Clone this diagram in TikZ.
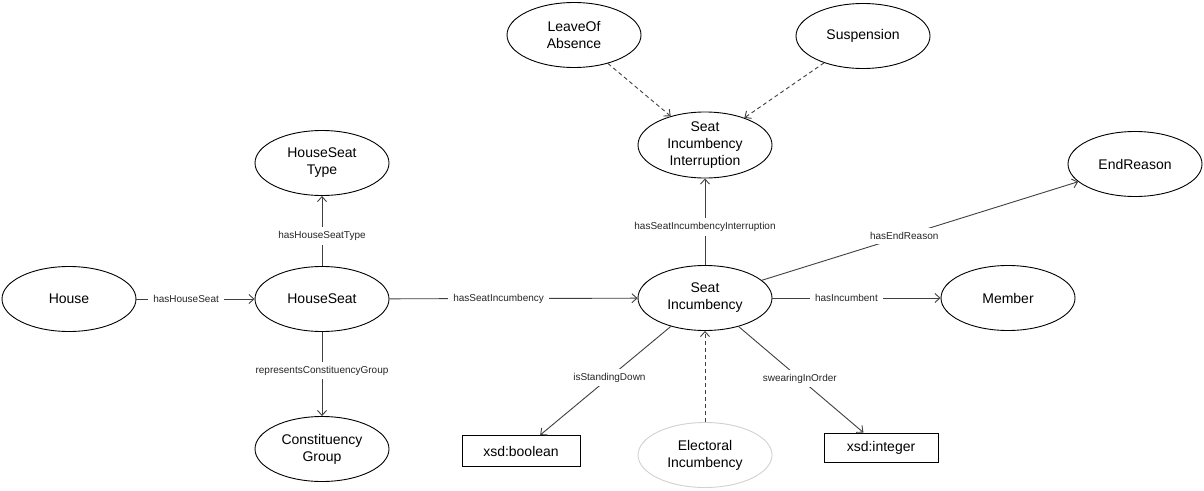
\documentclass[tikz,border=0pt]{standalone}
\usepackage{fontspec}
\setmainfont{Liberation Sans}
\usetikzlibrary{arrows.meta,shapes.geometric}

\begin{document}
\begin{tikzpicture}[x=1pt,y=-1pt,
  cls/.style={ellipse, draw=black, line width=0.9pt, minimum width=134pt,
    minimum height=65pt, inner sep=0pt, align=center,
    font=\fontsize{14}{17}\selectfont},
  dtype/.style={rectangle, draw=black, line width=0.9pt, inner sep=0pt,
    font=\fontsize{14}{17}\selectfont},
  rel/.style={draw=black!75, line width=0.9pt,
    -{Straight Barb[length=5pt,width=9pt]}},
  subrel/.style={rel, dash pattern=on 4pt off 3pt},
  lbl/.style={fill=white, inner xsep=5pt, inner ysep=4pt, text=black!85,
    font=\fontsize{10}{12}\selectfont}]
\useasboundingbox[fill=white] (0,0) rectangle (1204,490);

% classes
\node[cls] (house)  at (69,299)   {House};
\node[cls] (hseat)  at (322,299)  {HouseSeat};
\node[cls] (hstype) at (322,163)  {HouseSeat\\Type};
\node[cls] (cgroup) at (322,449)  {Constituency\\Group};
\node[cls] (si)     at (705,298)  {Seat\\Incumbency};
\node[cls] (sii)    at (705,145)  {Seat\\Incumbency\\Interruption};
\node[cls] (loa)    at (574,35)   {LeaveOf\\Absence};
\node[cls] (susp)   at (863,36)   {Suspension};
\node[cls] (endr)   at (1135,164) {EndReason};
\node[cls] (member) at (1008,298) {Member};
\node[cls, draw=black!18] (ei) at (705,455) {Electoral\\Incumbency};

% datatypes
\node[dtype, minimum width=118pt, minimum height=31pt] (bool) at (521,451) {xsd:boolean};
\node[dtype, minimum width=114pt, minimum height=29pt] (int)  at (881,447.5) {xsd:integer};

% object and datatype properties
\draw[rel] (house) -- node[lbl, pos=0.42] {hasHouseSeat} (hseat);
\draw[rel] (hseat) -- node[lbl, pos=0.43] {hasHouseSeatType} (hstype);
\draw[rel] (hseat) -- node[lbl, pos=0.46] {representsConstituencyGroup} (cgroup);
\draw[rel] (hseat) -- node[lbl, pos=0.44] {hasSeatIncumbency} (si);
\draw[rel] (si) -- node[lbl, pos=0.44] {hasSeatIncumbencyInterruption} (sii);
\draw[rel] (si) -- node[lbl, pos=0.45] {hasEndReason} (endr);
\draw[rel] (si) -- node[lbl, pos=0.44] {hasIncumbent} (member);
\draw[rel] (si) -- node[lbl, pos=0.47] {isStandingDown} (bool);
\draw[rel] (si) -- node[lbl, pos=0.49] {swearingInOrder} (int);

% subclass relations
\draw[subrel] (loa) -- (sii);
\draw[subrel] (susp) -- (sii);
\draw[subrel] (ei) -- (si);
\end{tikzpicture}
\end{document}
